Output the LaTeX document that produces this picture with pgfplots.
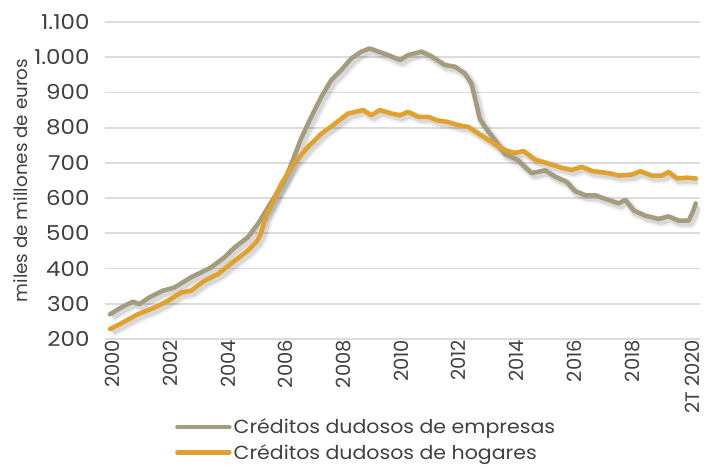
\documentclass[border=0pt]{standalone}
\usepackage{fontspec}
\setmainfont{Poppins}
\newfontfamily\tickfont{Poppins}[FakeStretch=1.12]
\newfontfamily\legfont{Poppins}[FakeStretch=1.08]
\usepackage{pgfplots}
\usepackage{pgfplotstable}
\pgfplotsset{compat=1.18}
\definecolor{empcol}{RGB}{163,156,126}
\definecolor{hogcol}{RGB}{224,162,44}
\definecolor{txtcol}{RGB}{64,64,64}
\definecolor{gridcol}{RGB}{220,220,220}

\pgfplotstableread{
x y
2000.00 270
2000.38 289
2000.79 306
2001.02 299
2001.36 318
2001.83 337
2002.23 346
2002.81 375
2003.50 403
2003.97 432
2004.32 460
2004.78 489
2005.13 527
2005.70 603
2006.05 650
2006.28 695
2006.63 770
2006.98 831
2007.33 888
2007.67 935
2008.02 964
2008.37 997
2008.72 1016
2009.00 1025
2009.30 1016
2009.64 1006
2010.05 992
2010.33 1006
2010.80 1016
2011.15 1002
2011.60 978
2011.96 973
2012.30 954
2012.53 925
2012.70 868
2012.82 825
2013.00 802
2013.35 764
2013.69 726
2014.15 707
2014.39 688
2014.62 671
2015.08 679
2015.43 661
2015.83 646
2016.12 620
2016.47 608
2016.82 608
2017.16 598
2017.63 585
2017.86 595
2018.15 565
2018.55 550
2019.01 541
2019.36 548
2019.71 536
2020.06 536
2020.22 565
2020.30 585
}\empresas

\pgfplotstableread{
x y
2000.00 228
2000.38 244
2000.96 270
2001.54 289
2002.00 308
2002.47 332
2002.81 337
2003.27 365
2003.74 384
2004.32 422
2004.78 451
2005.10 478
2005.24 500
2005.40 548
2005.60 580
2005.94 641
2006.40 700
2006.86 745
2007.33 783
2007.79 811
2008.25 840
2008.77 850
2009.06 835
2009.35 850
2009.76 840
2010.05 835
2010.33 845
2010.68 831
2011.03 831
2011.32 821
2011.72 816
2012.07 807
2012.42 802
2012.88 778
2013.23 759
2013.69 736
2014.04 728
2014.33 734
2014.74 709
2015.20 698
2015.66 686
2016.01 680
2016.35 689
2016.70 677
2017.28 671
2017.63 664
2018.09 667
2018.38 676
2018.78 664
2019.13 664
2019.36 674
2019.65 656
2020.00 658
2020.30 656
}\hogares

\begin{document}
\begin{tikzpicture}
\useasboundingbox (-105bp,-129bp) rectangle (601bp,339bp);
\begin{axis}[
  scale only axis,
  width=595bp, height=317bp,
  xmin=1999.83, xmax=2020.45,
  ymin=200, ymax=1100,
  ytick={200,300,...,1100},
  xtick={2000,2002,2004,2006,2008,2010,2012,2014,2016,2018,2020.08},
  xticklabels={2000,2002,2004,2006,2008,2010,2012,2014,2016,2018,2T 2020},
  axis line style={draw=none},
  major tick length=0pt,
  ymajorgrids,
  grid style={gridcol, line width=1.8bp},
  every tick label/.append style={text=txtcol},
  /pgf/number format/assume math mode=true,
  /pgf/number format/1000 sep={.},
  yticklabel style={xshift=-12bp, font=\tickfont\fontsize{20.5bp}{24bp}\selectfont},
  xticklabel style={rotate=90, anchor=mid east, yshift=-7bp, xshift=2.5bp, font=\fontsize{19.5bp}{23bp}\selectfont},
  ylabel={miles de millones de euros},
  ylabel style={text=txtcol, font=\fontsize{18.3bp}{22bp}\selectfont, at={(axis description cs:-0.141,0.50)}, anchor=center},
  legend style={draw=none, fill=none, at={(axis description cs:0.1176,-0.245)}, anchor=north west,
    inner sep=0pt, row sep=5bp, text=txtcol, font=\legfont\fontsize{19bp}{22bp}\selectfont,
    cells={anchor=west}},
  legend image code/.code={\draw[#1, line width=4.5bp, line cap=round] (0bp,0bp) -- (52bp,0bp);},
]
% shadows
\addplot[forget plot, draw=black, opacity=0.06, line width=10bp, line join=round, xshift=2.5bp, yshift=-3bp] table {\empresas};
\addplot[forget plot, draw=black, opacity=0.10, line width=6bp, line join=round, xshift=2.5bp, yshift=-3bp] table {\empresas};
\addplot[forget plot, draw=black, opacity=0.06, line width=10bp, line join=round, xshift=2.5bp, yshift=-3bp] table {\hogares};
\addplot[forget plot, draw=black, opacity=0.10, line width=6bp, line join=round, xshift=2.5bp, yshift=-3bp] table {\hogares};
% series
\addplot[empcol, line width=4.5bp, line join=round, line cap=round] table {\empresas};
\addlegendentry{Créditos dudosos de empresas}
\addplot[hogcol, line width=4.5bp, line join=round, line cap=round] table {\hogares};
\addlegendentry{Créditos dudosos de hogares}
\end{axis}
\end{tikzpicture}
\end{document}
